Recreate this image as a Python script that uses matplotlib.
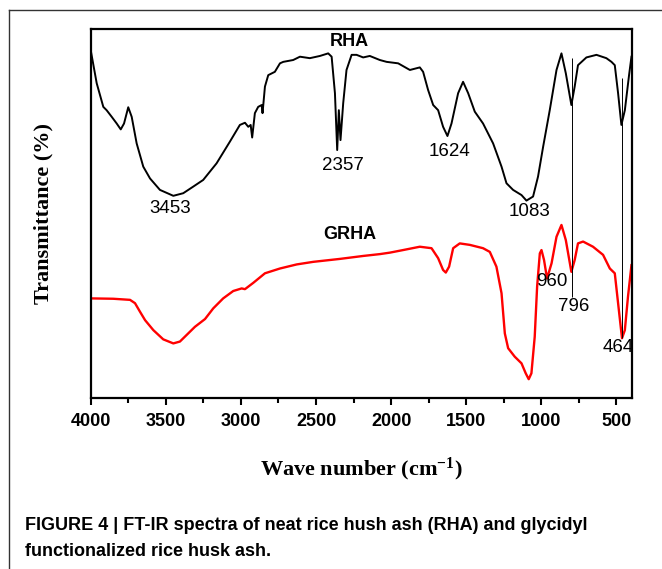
#!/usr/bin/env python3

import matplotlib.pyplot as plt
from matplotlib.lines import Line2D
from matplotlib.ticker import MultipleLocator

# RHA spectrum (wavenumber cm-1, transmittance arb. %)
rha_wn = [4000, 3960, 3916, 3894, 3860, 3827, 3800, 3778, 3750, 3727, 3694, 3650,
          3605, 3539, 3450, 3384, 3317, 3251, 3162, 3073, 3007, 2973, 2951, 2935,
          2925, 2907, 2885, 2862, 2856, 2840, 2818, 2774, 2740, 2718, 2652, 2607,
          2541, 2474, 2419, 2396, 2374, 2359, 2348, 2337, 2319, 2297, 2263, 2230,
          2186, 2142, 2075, 2030, 1953, 1875, 1809, 1787, 1754, 1720, 1687, 1654,
          1625, 1598, 1554, 1521, 1487, 1443, 1388, 1321, 1265, 1232, 1188, 1132,
          1099, 1055, 1022, 988, 944, 899, 866, 837, 800, 778, 756, 700, 633, 567,
          533, 511, 489, 467, 444, 416, 400]
rha_t = [94.3, 85.3, 78.9, 78.0, 76.2, 74.4, 72.8, 74.4, 78.8, 76.2, 69.0, 62.7,
         59.5, 56.4, 54.8, 55.5, 57.3, 59.1, 63.6, 69.5, 74.0, 74.6, 73.5, 74.0,
         70.6, 77.2, 78.9, 79.4, 77.2, 84.4, 87.5, 88.4, 90.7, 91.1, 91.6, 92.5,
         92.1, 92.7, 93.4, 92.5, 82.6, 67.2, 78.0, 69.9, 79.9, 88.9, 93.0, 93.0,
         92.3, 92.7, 91.6, 91.1, 90.7, 88.9, 89.6, 88.4, 83.5, 79.4, 78.0, 73.5,
         71.0, 74.4, 82.6, 85.7, 82.6, 77.6, 74.4, 69.0, 62.7, 58.2, 56.4, 55.0,
         53.5, 54.6, 60.0, 68.1, 78.0, 88.9, 93.4, 88.0, 79.4, 84.4, 90.2, 92.3,
         93.0, 92.1, 91.1, 90.2, 82.6, 74.0, 78.0, 87.5, 92.5]

# GRHA spectrum
grha_wn = [4000, 3850, 3738, 3705, 3672, 3638, 3583, 3517, 3450, 3406, 3361, 3306,
           3239, 3184, 3118, 3051, 2995, 2973, 2918, 2840, 2740, 2629, 2519, 2341,
           2186, 2075, 2008, 1920, 1809, 1731, 1687, 1654, 1636, 1614, 1587, 1543,
           1476, 1388, 1343, 1299, 1265, 1243, 1221, 1177, 1132, 1104, 1084, 1066,
           1044, 1028, 1010, 999, 982, 962, 932, 899, 866, 837, 800, 778, 756, 722,
           656, 589, 544, 511, 489, 463, 444, 423, 400]
grha_t = [27.0, 26.9, 26.6, 25.7, 23.4, 21.1, 18.4, 15.9, 14.8, 15.3, 17.1, 19.3,
          21.4, 24.3, 27.0, 29.0, 29.7, 29.5, 31.2, 33.8, 35.1, 36.2, 36.9, 37.7,
          38.5, 39.0, 39.4, 40.1, 41.0, 40.6, 37.9, 34.7, 34.0, 35.6, 40.6, 41.9,
          41.5, 40.6, 39.6, 35.6, 28.4, 17.5, 13.5, 11.2, 9.4, 6.7, 5.1, 6.7,
          16.6, 30.2, 39.2, 40.1, 37.4, 32.4, 36.5, 43.7, 46.9, 42.8, 34.2, 37.4,
          41.9, 42.4, 41.0, 38.8, 35.1, 33.8, 25.7, 16.2, 18.4, 27.5, 36.0]

# peak labels: text, wavenumber, transmittance
peak_labels = ['3453', '2357', '1624', '1083', '960', '796', '464']
peak_wn = [3468, 2319, 1609, 1077, 933, 784, 489]
peak_t = [51.4, 63.1, 66.7, 50.5, 31.5, 24.7, 13.6]

# guide lines joining both spectra
guide_wn = [796, 466]
guide_top = [92.1, 86.6]
guide_bottom = [27.5, 16.3]

fig = plt.figure(figsize=(6.62, 5.69), dpi=100)
ax = fig.add_axes([0.137, 0.3005, 0.818, 0.6485])

ax.plot(rha_wn, rha_t, color='black', lw=1.4)
ax.plot(grha_wn, grha_t, color='red', lw=1.7)
ax.vlines(guide_wn, guide_bottom, guide_top, colors='black', lw=0.7)

for txt, x, y in zip(peak_labels, peak_wn, peak_t):
    ax.text(x, y, txt, ha='center', va='center', fontsize=13.5,
            family='Liberation Sans')
ax.text(2275, 96.6, 'RHA', ha='center', va='center', fontsize=13,
        family='Liberation Sans', fontweight='bold')
ax.text(2275, 44.2, 'GRHA', ha='center', va='center', fontsize=13,
        family='Liberation Sans', fontweight='bold')

ax.set_xlim(4000, 395)
ax.set_ylim(0, 100)
ax.xaxis.set_major_locator(MultipleLocator(500))
ax.xaxis.set_minor_locator(MultipleLocator(250))
ax.tick_params(axis='x', which='major', direction='out', length=5, width=1.5, pad=6)
ax.tick_params(axis='x', which='minor', direction='out', length=3.5, width=1.5)
ax.set_yticks([])
for lab in ax.get_xticklabels():
    lab.set_family('Liberation Sans')
    lab.set_fontweight('bold')
    lab.set_fontsize(13)
for sp in ax.spines.values():
    sp.set_linewidth(1.6)

plt.rcParams['mathtext.default'] = 'regular'
ax.set_xlabel(r'Wave number (cm$^{-1}$)', family='Liberation Serif',
              fontweight='bold', fontsize=16, labelpad=18)
ax.set_ylabel('Transmittance (%)', family='Liberation Serif',
              fontweight='bold', fontsize=16, labelpad=27)

# frame of the published figure panel
fig.add_artist(Line2D([9 / 662, 1], [1 - 10 / 569] * 2, transform=fig.transFigure,
                      color='#333333', lw=1))
fig.add_artist(Line2D([9 / 662] * 2, [1 - 10 / 569, 0], transform=fig.transFigure,
                      color='#333333', lw=1))

fig.text(25 / 662, 1 - 525 / 569,
         'FIGURE 4 | FT-IR spectra of neat rice hush ash (RHA) and glycidyl',
         family='Liberation Sans', fontweight='bold', fontsize=13, va='center')
fig.text(25 / 662, 1 - 552 / 569, 'functionalized rice husk ash.',
         family='Liberation Sans', fontweight='bold', fontsize=13, va='center')

fig.savefig('out.png', dpi=100)
plt.close()
